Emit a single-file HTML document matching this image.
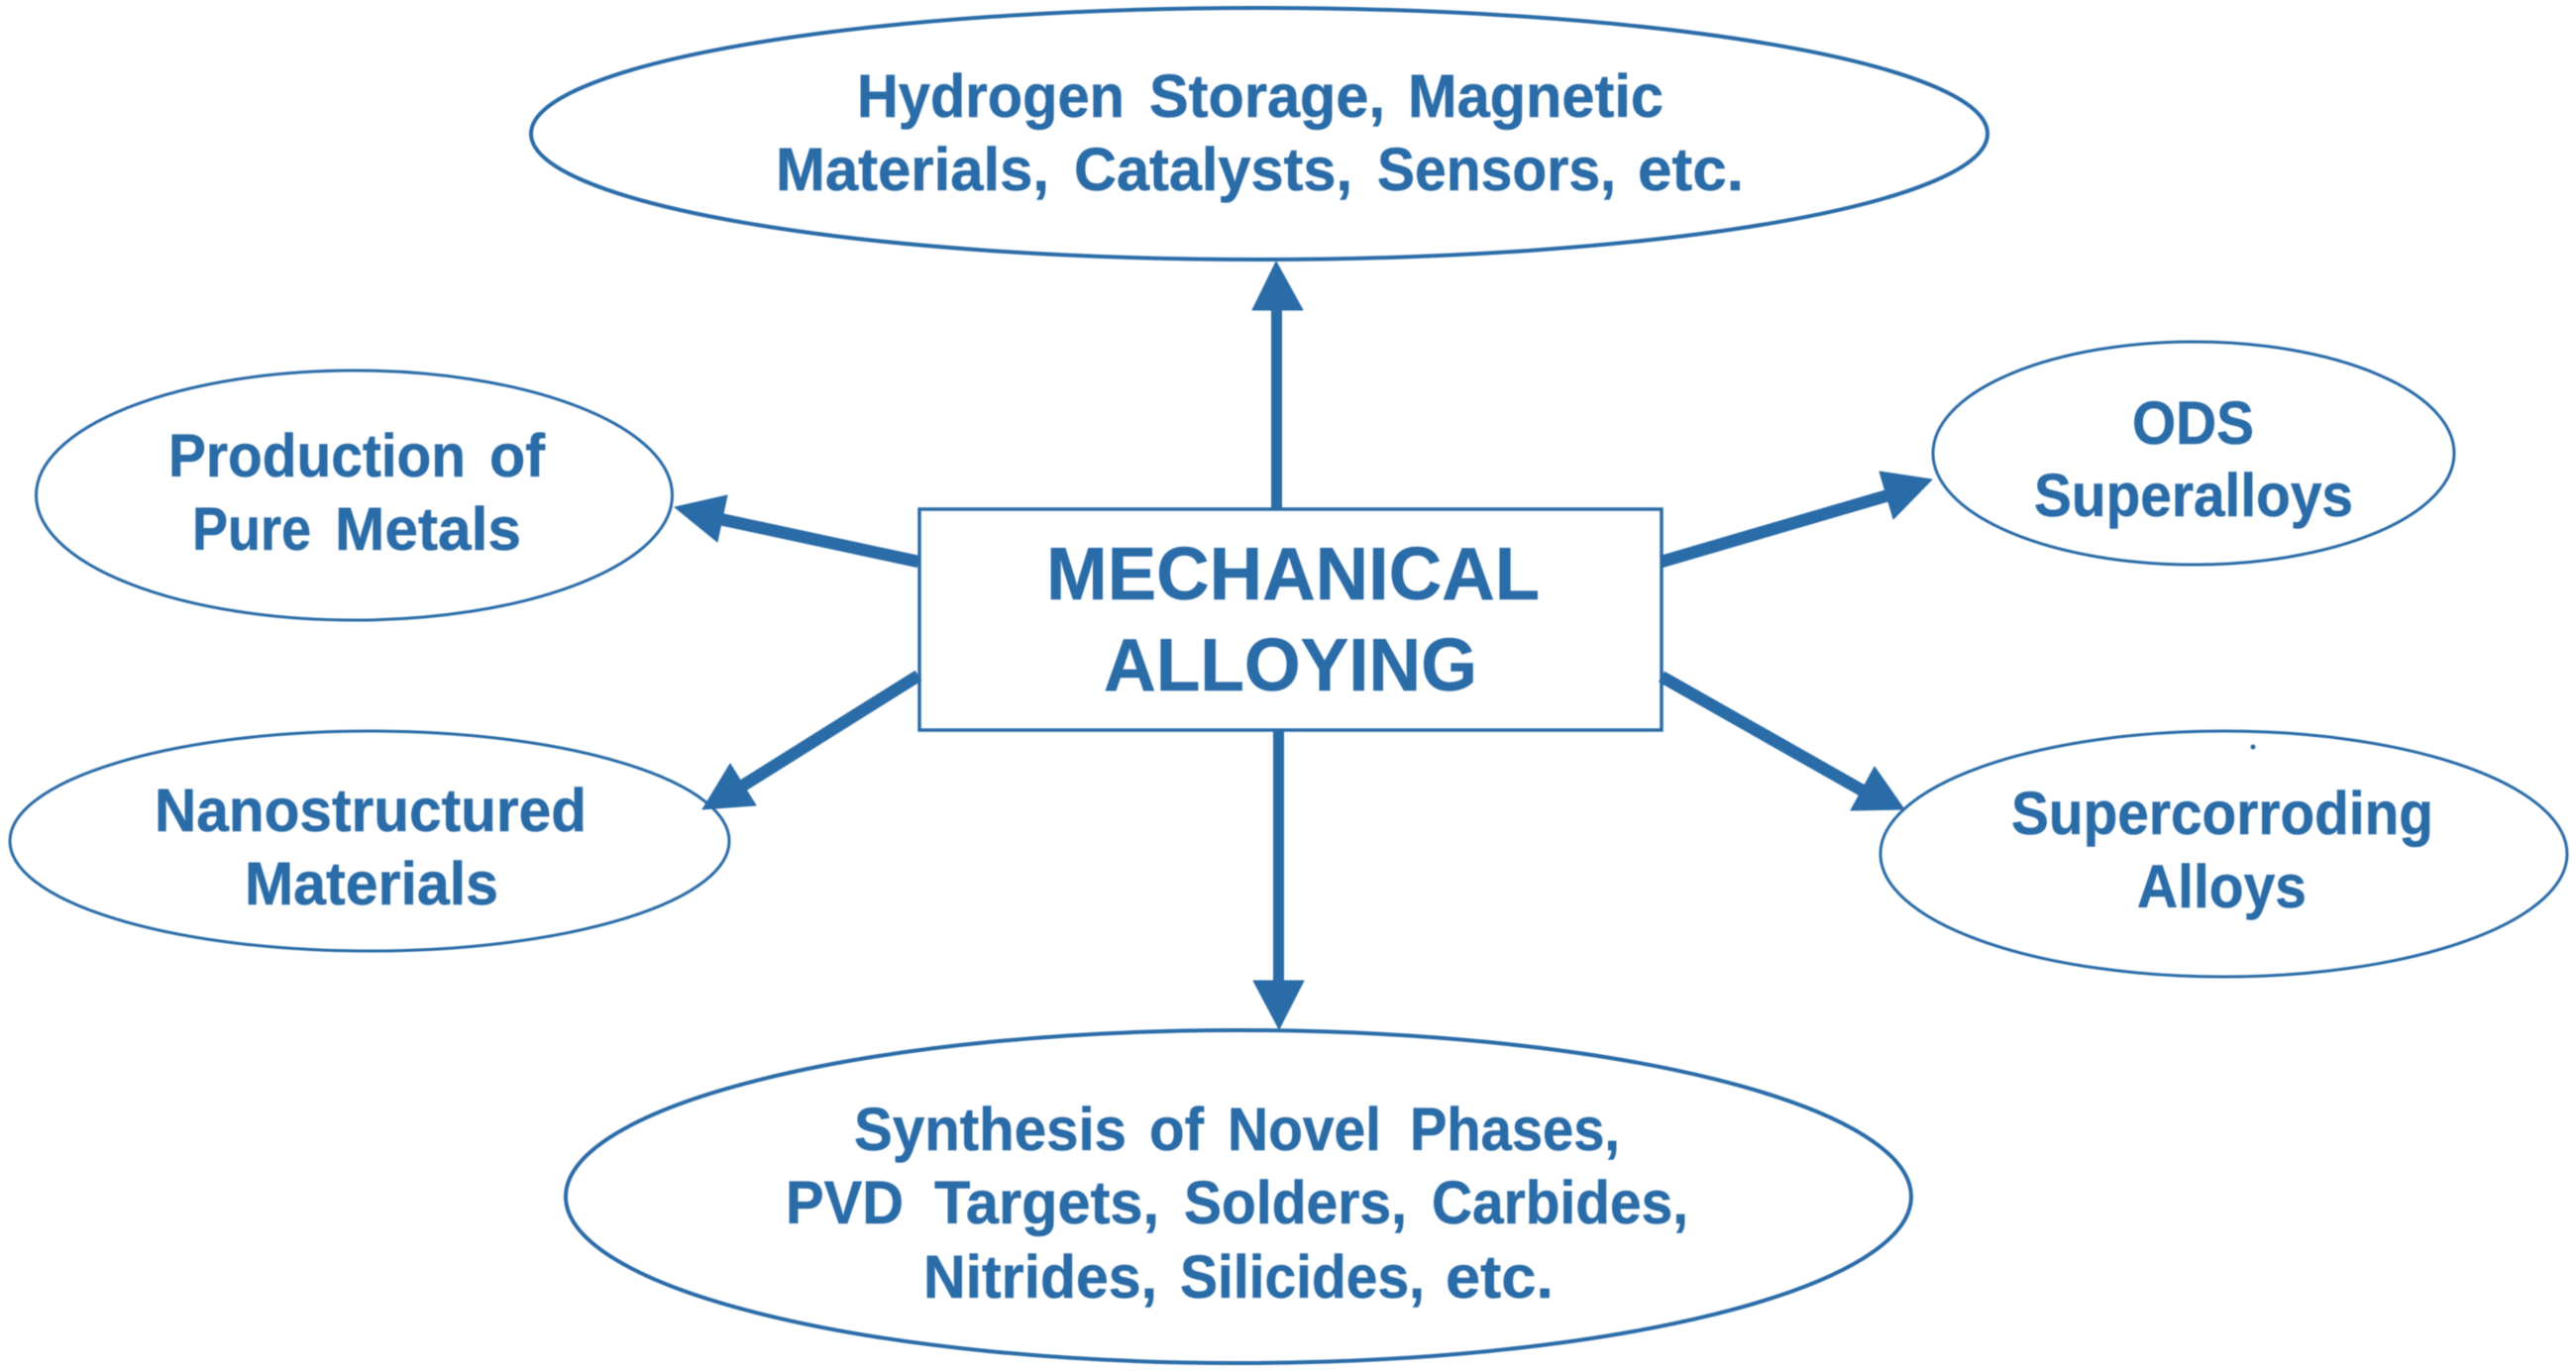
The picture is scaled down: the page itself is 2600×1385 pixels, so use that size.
<!DOCTYPE html>
<html lang="en"><head><meta charset="utf-8"><title>Mechanical Alloying</title>
<style>
html,body{margin:0;padding:0;background:#fff;width:2600px;height:1385px;overflow:hidden}
svg{display:block}
text{font-family:"Liberation Sans",Arial,sans-serif;font-weight:700;fill:#2b6ca8;font-size:61px;stroke:#2b6ca8;stroke-width:.5}
.b{font-size:75px}
.e{fill:none;stroke:#2b6ca8;stroke-width:3}
.s{stroke:#2b6ca8;stroke-width:11;fill:none}
.d{stroke-width:12.5}
.h{fill:#2b6ca8;stroke:#2b6ca8;stroke-width:1;stroke-linejoin:round}
</style></head><body>
<svg width="2600" height="1385" viewBox="0 0 2600 1385" xmlns="http://www.w3.org/2000/svg">
<defs><filter id="soft" filterUnits="userSpaceOnUse" x="0" y="0" width="2600" height="1385"><feGaussianBlur stdDeviation="0.6"/></filter></defs>
<rect width="2600" height="1385" fill="#fff"/>
<g filter="url(#soft)">
<ellipse class="e" style="stroke-width:4" cx="1271" cy="135" rx="735" ry="127"/>
<ellipse class="e" cx="357.5" cy="500" rx="321" ry="126"/>
<ellipse class="e" cx="373" cy="849" rx="363" ry="111"/>
<ellipse class="e" cx="2214" cy="457.5" rx="263" ry="112.5"/>
<ellipse class="e" cx="2244.5" cy="862" rx="346.5" ry="124"/>
<ellipse class="e" style="stroke-width:4" cx="1250" cy="1208" rx="679" ry="168"/>
<rect x="928" y="514" width="749" height="223" fill="none" stroke="#2b6ca8" stroke-width="3.5"/>

<line class="s" x1="1288.5" y1="513" x2="1288.5" y2="305"/>
<polygon class="h" points="1288,264 1264,313 1315,313"/>
<line class="s" x1="1290.5" y1="737" x2="1290.5" y2="995"/>
<polygon class="h" points="1291,1039 1265,990 1316,990"/>
<line class="s d" x1="927" y1="567" x2="722" y2="523"/>
<polygon class="h" points="681,512 734,500 724,547"/>
<line class="s d" x1="927" y1="682" x2="745" y2="796"/>
<polygon class="h" points="709,817 737,771 763,813"/>
<line class="s d" x1="1677" y1="567" x2="1906" y2="500"/>
<polygon class="h" points="1950,484 1897,476 1911,524"/>
<line class="s d" x1="1677" y1="683" x2="1885" y2="801"/>
<polygon class="h" points="1922,817 1892,774 1868,818"/>
<circle class="h" style="stroke:none" cx="2274" cy="754" r="2.5"/>

<text y="118"><tspan x="865" textLength="270" lengthAdjust="spacingAndGlyphs">Hydrogen</tspan> <tspan x="1160" textLength="238" lengthAdjust="spacingAndGlyphs">Storage,</tspan> <tspan x="1421" textLength="258" lengthAdjust="spacingAndGlyphs">Magnetic</tspan></text>
<text y="192"><tspan x="783" textLength="276" lengthAdjust="spacingAndGlyphs">Materials,</tspan> <tspan x="1084" textLength="281" lengthAdjust="spacingAndGlyphs">Catalysts,</tspan> <tspan x="1390" textLength="241" lengthAdjust="spacingAndGlyphs">Sensors,</tspan> <tspan x="1653" textLength="107" lengthAdjust="spacingAndGlyphs">etc.</tspan></text>
<text y="481"><tspan x="170" textLength="300" lengthAdjust="spacingAndGlyphs">Production</tspan> <tspan x="494" textLength="56" lengthAdjust="spacingAndGlyphs">of</tspan></text>
<text y="555"><tspan x="194" textLength="120" lengthAdjust="spacingAndGlyphs">Pure</tspan> <tspan x="338" textLength="188" lengthAdjust="spacingAndGlyphs">Metals</tspan></text>
<text x="156" y="839" textLength="436" lengthAdjust="spacingAndGlyphs">Nanostructured</text>
<text x="247" y="913" textLength="256" lengthAdjust="spacingAndGlyphs">Materials</text>
<text class="b" x="1056" y="605" textLength="498" lengthAdjust="spacingAndGlyphs">MECHANICAL</text>
<text class="b" x="1114" y="697" textLength="377" lengthAdjust="spacingAndGlyphs">ALLOYING</text>
<text x="2152" y="448" textLength="123" lengthAdjust="spacingAndGlyphs">ODS</text>
<text x="2053" y="521" textLength="322" lengthAdjust="spacingAndGlyphs">Superalloys</text>
<text x="2030" y="842" textLength="426" lengthAdjust="spacingAndGlyphs">Supercorroding</text>
<text x="2157" y="916" textLength="171" lengthAdjust="spacingAndGlyphs">Alloys</text>
<text y="1161"><tspan x="862" textLength="275" lengthAdjust="spacingAndGlyphs">Synthesis</tspan> <tspan x="1160" textLength="55" lengthAdjust="spacingAndGlyphs">of</tspan> <tspan x="1239" textLength="155" lengthAdjust="spacingAndGlyphs">Novel</tspan> <tspan x="1423" textLength="212" lengthAdjust="spacingAndGlyphs">Phases,</tspan></text>
<text y="1235"><tspan x="793" textLength="119" lengthAdjust="spacingAndGlyphs">PVD</tspan> <tspan x="943" textLength="227" lengthAdjust="spacingAndGlyphs">Targets,</tspan> <tspan x="1195" textLength="225" lengthAdjust="spacingAndGlyphs">Solders,</tspan> <tspan x="1445" textLength="259" lengthAdjust="spacingAndGlyphs">Carbides,</tspan></text>
<text y="1310"><tspan x="932" textLength="236" lengthAdjust="spacingAndGlyphs">Nitrides,</tspan> <tspan x="1191" textLength="247" lengthAdjust="spacingAndGlyphs">Silicides,</tspan> <tspan x="1459" textLength="109" lengthAdjust="spacingAndGlyphs">etc.</tspan></text>
</g>
</svg>
</body></html>
